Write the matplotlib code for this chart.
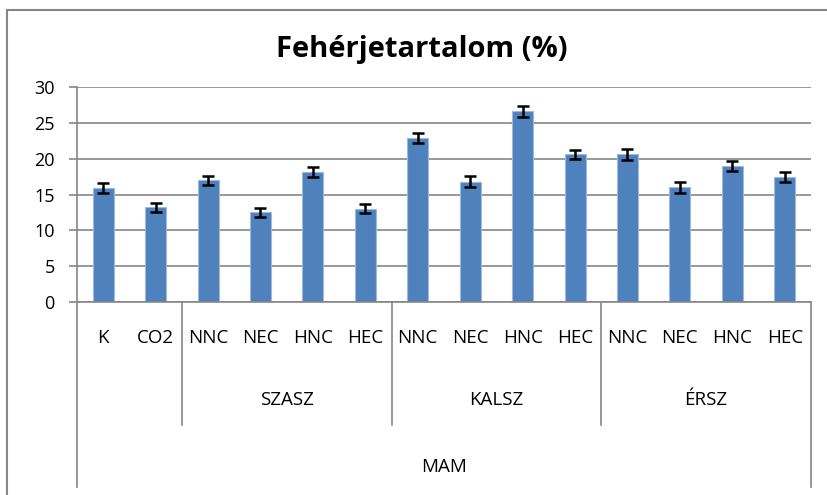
import matplotlib.pyplot as plt
import matplotlib.transforms as mtransforms
from matplotlib.lines import Line2D

treatments = ["K", "CO2", "NNC", "NEC", "HNC", "HEC", "NNC", "NEC", "HNC", "HEC",
              "NNC", "NEC", "HNC", "HEC"]
protein = [15.9, 13.2, 17.0, 12.5, 18.1, 13.0, 22.9, 16.8, 26.6, 20.6,
           20.6, 16.0, 19.0, 17.4]
errors = [0.7, 0.65, 0.63, 0.65, 0.67, 0.65, 0.72, 0.72, 0.74, 0.65,
          0.74, 0.74, 0.74, 0.67]
sites = ["SZASZ", "KALSZ", "ÉRSZ"]
site_first = [2, 6, 10]
site_last = [5, 9, 13]
top_label = "MAM"

plt.rcParams['font.family'] = ['Open Sans', 'DejaVu Sans']
grid_col = "#868686"

fig = plt.figure(figsize=(8.27, 4.95), dpi=100)
ax = fig.add_axes([77 / 827, 1 - 302 / 495, 734 / 827, 215 / 495])

x = list(range(len(protein)))
ax.bar(x, protein, width=0.4, color="#4F81BD", edgecolor="#9DB9DC", linewidth=0.8, zorder=2)
ax.errorbar(x, protein, yerr=errors, fmt="none", ecolor="black", elinewidth=1.8,
            capsize=4, capthick=1.8, zorder=3)

ax.set_xlim(-0.5, len(protein) - 0.5)
ax.set_ylim(0, 30)
ax.set_yticks(range(0, 31, 5))
ax.yaxis.grid(True, color=grid_col, linewidth=1.2, zorder=0)
ax.set_axisbelow(True)
ax.tick_params(axis="y", length=6, width=1.2, color=grid_col, pad=10, labelsize=13)
ax.set_xticks([])
for s in ["top", "right"]:
    ax.spines[s].set_visible(False)
for s in ["left", "bottom"]:
    ax.spines[s].set_color(grid_col)
    ax.spines[s].set_linewidth(1.2)

# multi-level category axis
trans = mtransforms.blended_transform_factory(ax.transData, ax.transAxes)
for i, lab in enumerate(treatments):
    ax.text(i, -0.167, lab, transform=trans, ha="center", va="center", fontsize=13.5)
for name, a, b in zip(sites, site_first, site_last):
    ax.text((a + b) / 2, -0.456, name, transform=trans, ha="center", va="center", fontsize=13.5)
    ax.add_line(Line2D([a - 0.5, a - 0.5], [0, -0.572], transform=trans, color=grid_col,
                       linewidth=1.2, clip_on=False))
ax.text((len(protein) - 1) / 2, -0.767, top_label, transform=trans, ha="center",
        va="center", fontsize=13.5)
for xe in [-0.5, len(protein) - 0.5]:
    ax.add_line(Line2D([xe, xe], [0, -0.86], transform=trans, color=grid_col,
                       linewidth=1.2, clip_on=False))

# chart frame (left and top edges visible)
fig.add_artist(Line2D([7 / 827, 7 / 827], [0, 1 - 10 / 495], transform=fig.transFigure,
                      color=grid_col, linewidth=1.5))
fig.add_artist(Line2D([7 / 827, 1], [1 - 10 / 495, 1 - 10 / 495], transform=fig.transFigure,
                      color=grid_col, linewidth=1.5))

fig.text(422 / 827, 1 - 50 / 495, "Fehérjetartalom (%)", ha="center", va="center",
         fontsize=21, fontweight="bold")

fig.savefig("out.png", dpi=100)
